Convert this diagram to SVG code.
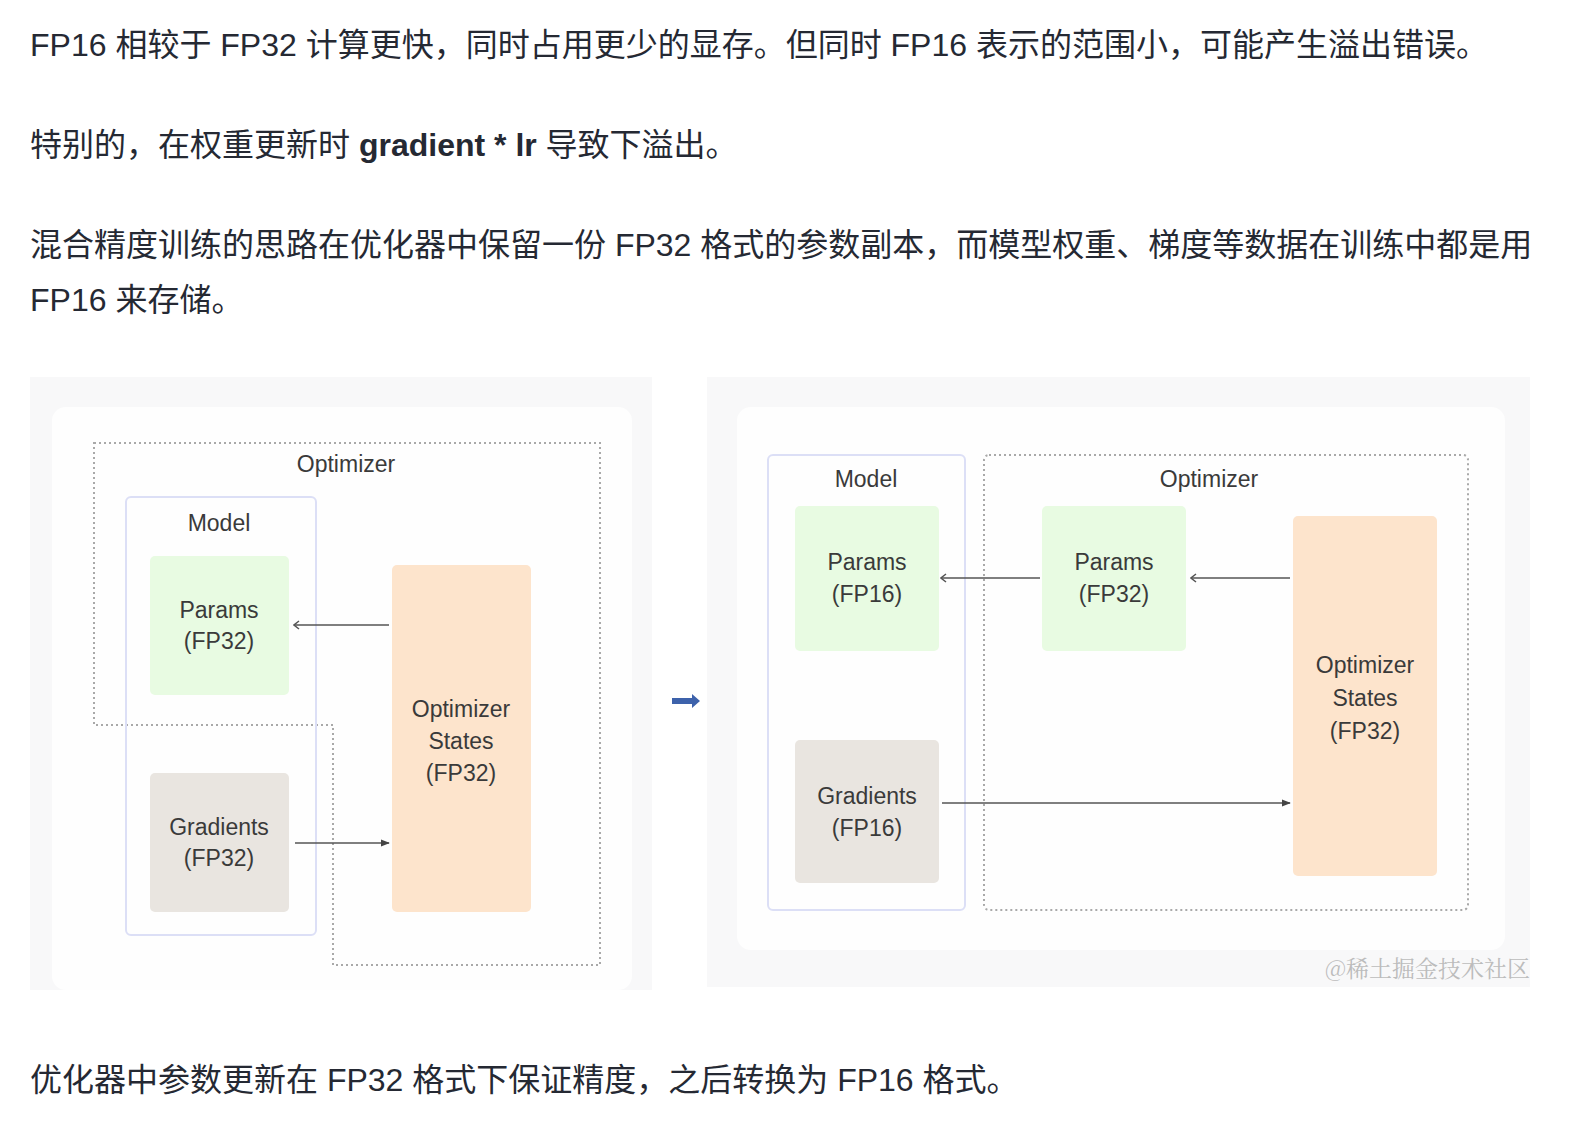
<svg xmlns="http://www.w3.org/2000/svg" width="1570" height="1126" viewBox="0 0 1570 1126">
<defs>
<style>
.p{font-family:"Liberation Sans","Noto Sans CJK SC",sans-serif;font-size:32px;fill:#252933}
.lbl{font-family:"Liberation Sans","Noto Sans CJK SC",sans-serif;font-size:23px;fill:#3a3a3a;text-anchor:middle}
.dot{fill:none;stroke:#a9a9a9;stroke-width:2;stroke-dasharray:2 3}
.model{fill:none;stroke:#dcdff6;stroke-width:2}
.green{fill:#e8fbe2}
.grad{fill:#e9e5e0}
.orange{fill:#fde4cc}
.conn{stroke:#555;stroke-width:1.4;fill:none}
</style>
<marker id="open" viewBox="0 0 10 10" refX="9" refY="5" markerWidth="10" markerHeight="10" markerUnits="userSpaceOnUse" orient="auto">
<path d="M4 1 L9 5 L4 9" fill="none" stroke="#555" stroke-width="1.5"/>
</marker>
<marker id="fill" viewBox="0 0 10 10" refX="9" refY="5" markerWidth="9" markerHeight="9" markerUnits="userSpaceOnUse" orient="auto">
<path d="M0 1 L10 5 L0 9 Z" fill="#444"/>
</marker>
</defs>
<rect width="1570" height="1126" fill="#ffffff"/>

<g id="text">
<text class="p" x="30" y="56">FP16 相较于 FP32 计算更快，同时占用更少的显存。但同时 FP16 表示的范围小，可能产生溢出错误。</text>
<text class="p" x="30" y="156">特别的，在权重更新时 <tspan font-weight="bold">gradient * lr</tspan> 导致下溢出。</text>
<text class="p" x="30" y="256">混合精度训练的思路在优化器中保留一份 FP32 格式的参数副本，而模型权重、梯度等数据在训练中都是用</text>
<text class="p" x="30" y="311">FP16 来存储。</text>
<text class="p" x="30" y="1091">优化器中参数更新在 FP32 格式下保证精度，之后转换为 FP16 格式。</text>
</g>

<g id="panels">
<rect x="30" y="377" width="622" height="613" fill="#f8f8f9"/>
<rect x="52" y="407" width="580" height="583" rx="14" fill="#fefefe"/>
<rect x="707" y="377" width="823" height="610" fill="#f8f8f9"/>
<rect x="737" y="407" width="768" height="543" rx="14" fill="#fefefe"/>
</g>

<g id="left-optimizer">
<path class="dot" d="M94 443 H600 V965 H333 V725 H94 Z"/>
<text class="lbl" x="346" y="472">Optimizer</text>
</g>
<g id="left-model">
<rect class="model" x="126" y="497" width="190" height="438" rx="5"/>
<text class="lbl" x="219" y="531">Model</text>
</g>
<g id="left-params">
<rect class="green" x="150" y="556" width="139" height="139" rx="5"/>
<text class="lbl" x="219" y="618">Params</text>
<text class="lbl" x="219" y="649">(FP32)</text>
</g>
<g id="left-gradients">
<rect class="grad" x="150" y="773" width="139" height="139" rx="5"/>
<text class="lbl" x="219" y="835">Gradients</text>
<text class="lbl" x="219" y="866">(FP32)</text>
</g>
<g id="left-states">
<rect class="orange" x="392" y="565" width="139" height="347" rx="5"/>
<text class="lbl" x="461" y="717">Optimizer</text>
<text class="lbl" x="461" y="749">States</text>
<text class="lbl" x="461" y="781">(FP32)</text>
</g>

<g id="right-model">
<rect class="model" x="768" y="455" width="197" height="455" rx="5"/>
<text class="lbl" x="866" y="487">Model</text>
</g>
<g id="right-optimizer">
<rect class="dot" x="984" y="455" width="484" height="455" rx="5"/>
<text class="lbl" x="1209" y="487">Optimizer</text>
</g>
<g id="right-params16">
<rect class="green" x="795" y="506" width="144" height="145" rx="5"/>
<text class="lbl" x="867" y="570">Params</text>
<text class="lbl" x="867" y="602">(FP16)</text>
</g>
<g id="right-params32">
<rect class="green" x="1042" y="506" width="144" height="145" rx="5"/>
<text class="lbl" x="1114" y="570">Params</text>
<text class="lbl" x="1114" y="602">(FP32)</text>
</g>
<g id="right-gradients">
<rect class="grad" x="795" y="740" width="144" height="143" rx="5"/>
<text class="lbl" x="867" y="804">Gradients</text>
<text class="lbl" x="867" y="836">(FP16)</text>
</g>
<g id="right-states">
<rect class="orange" x="1293" y="516" width="144" height="360" rx="5"/>
<text class="lbl" x="1365" y="673">Optimizer</text>
<text class="lbl" x="1365" y="706">States</text>
<text class="lbl" x="1365" y="739">(FP32)</text>
</g>

<g id="connectors">
<line class="conn" x1="389" y1="625" x2="294" y2="625" marker-end="url(#open)"/>
<line class="conn" x1="295" y1="843" x2="389" y2="843" marker-end="url(#fill)"/>
<line class="conn" x1="1040" y1="578" x2="941" y2="578" marker-end="url(#open)"/>
<line class="conn" x1="1290" y1="578" x2="1191" y2="578" marker-end="url(#open)"/>
<line class="conn" x1="942" y1="803" x2="1290" y2="803" marker-end="url(#fill)"/>
<path d="M672 698 H692 V694 L700 701 L692 708 V704 H672 Z" fill="#3d62ab"/>
</g>

<g id="watermark">
<text x="1530" y="977" text-anchor="end" font-family="Noto Serif CJK SC,Noto Sans CJK SC,sans-serif" font-size="23" fill="#bcbcbc">@稀土掘金技术社区</text>
</g>
</svg>
